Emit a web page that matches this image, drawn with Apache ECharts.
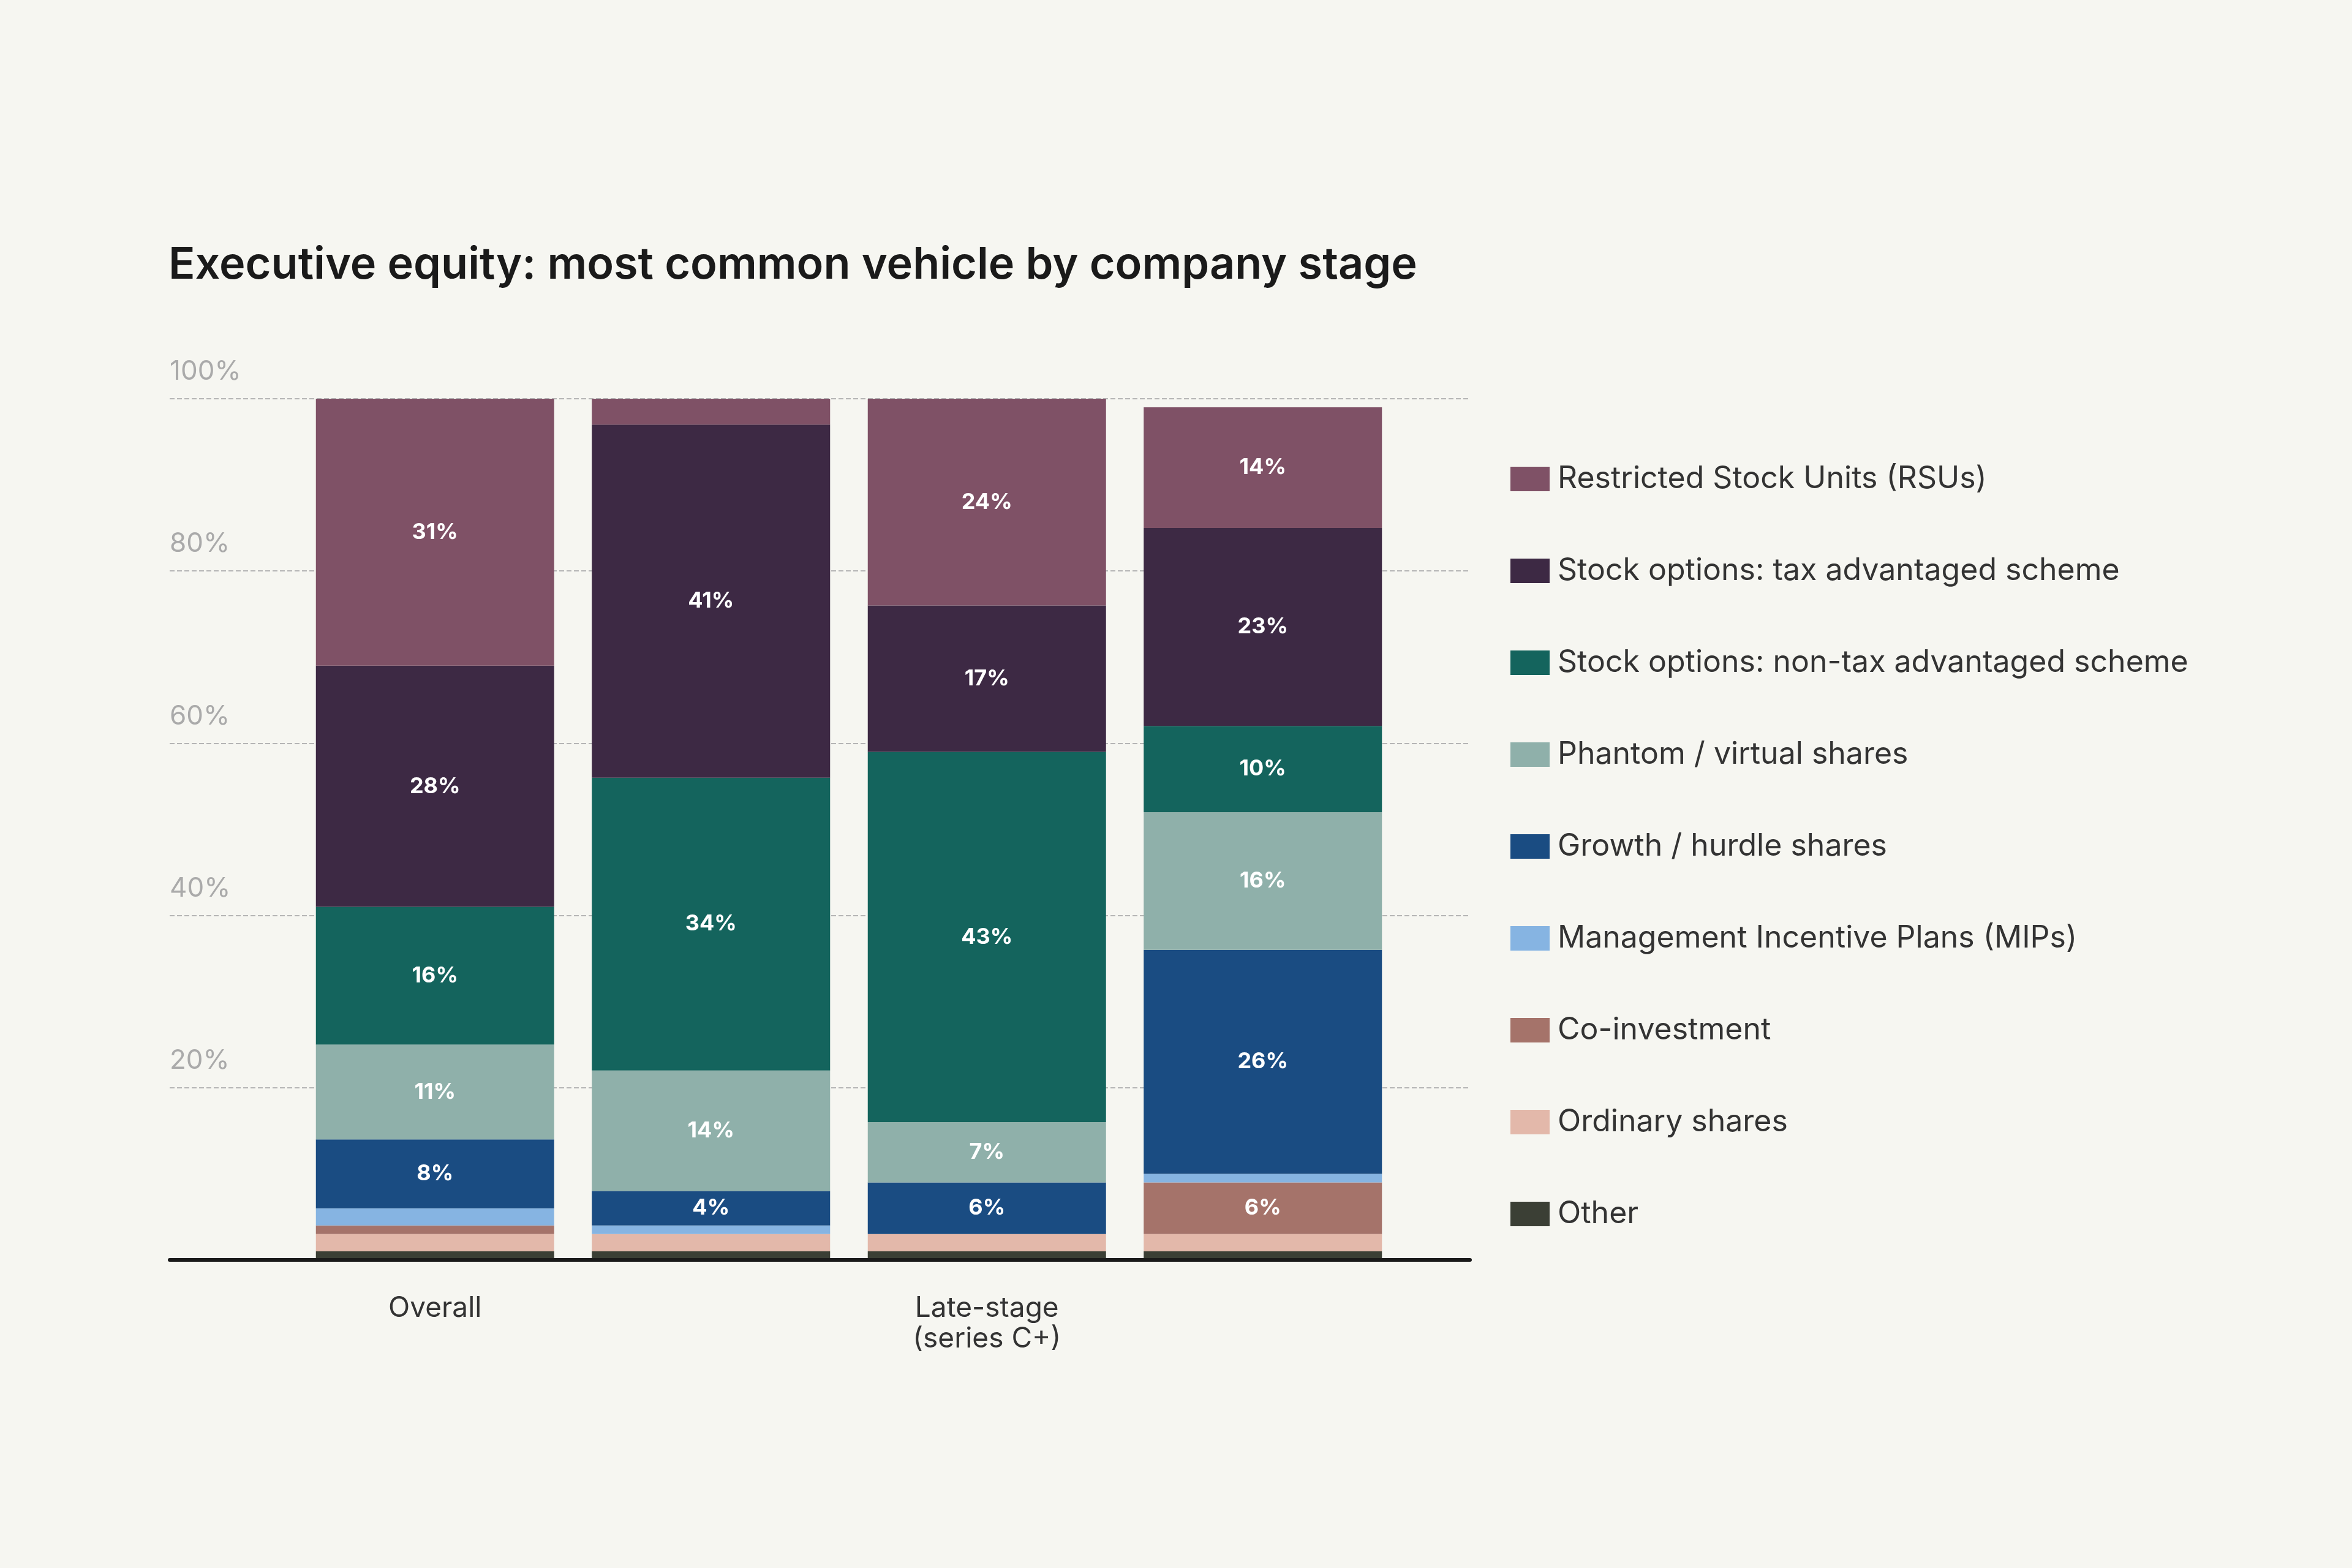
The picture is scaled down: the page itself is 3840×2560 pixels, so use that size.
<!DOCTYPE html>
<html><head><meta charset="utf-8">
<script src="https://cdn.jsdelivr.net/npm/echarts@6/dist/echarts.min.js"></script>
<style>html,body{margin:0;background:#f6f6f1}#chart{width:3840px;height:2560px}</style>
</head><body><div id="chart"></div>
<script>
var categories = ['Overall', 'Early-stage\n(seed to series B)', 'Late-stage\n(series C+)', 'Private equity\nbacked'];
var other = [1, 1, 1, 1];
var ordinary = [2, 2, 2, 2];
var coInvestment = [1, 0, 0, 6];
var mips = [2, 1, 0, 1];
var growth = [8, 4, 6, 26];
var phantom = [11, 14, 7, 16];
var nonTax = [16, 34, 43, 10];
var taxAdv = [28, 41, 17, 23];
var rsu = [31, 3, 24, 14];
var yTicks = [0, 20, 40, 60, 80, 100];

var seriesDefs = [
    ['Other', other, '#3b3f35'],
    ['Ordinary shares', ordinary, '#e3b8aa'],
    ['Co-investment', coInvestment, '#a5736a'],
    ['Management Incentive Plans (MIPs)', mips, '#86b4e2'],
    ['Growth / hurdle shares', growth, '#1a4c82'],
    ['Phantom / virtual shares', phantom, '#8fb0aa'],
    ['Stock options: non-tax advantaged scheme', nonTax, '#14645d'],
    ['Stock options: tax advantaged scheme', taxAdv, '#3d2944'],
    ['Restricted Stock Units (RSUs)', rsu, '#7f5166']
];

var font = 'Inter, "Noto Sans", sans-serif';
var myChart = echarts.init(document.getElementById('chart'));

var series = seriesDefs.map(function (d) {
    return {
        name: d[0], type: 'bar', stack: 'all', xAxisIndex: 1, yAxisIndex: 1,
        barWidth: 389, data: d[1], itemStyle: {color: d[2]},
        label: {
            show: true, color: '#fff', fontSize: 36, fontWeight: 'bold', fontFamily: font,
            formatter: function (p) { return p.value >= 4 ? p.value + '%' : ''; }
        }
    };
});

var option = {
    backgroundColor: '#f6f6f1',
    title: {
        text: 'Executive equity: most common vehicle by company stage',
        left: 270, top: 392,
        textStyle: {fontSize: 72, fontWeight: 600, color: '#1a1a1a', fontFamily: font}
    },
    legend: {
        orient: 'vertical', left: 2461, top: 752, itemGap: 100,
        itemWidth: 64, itemHeight: 40, icon: 'rect',
        textStyle: {fontSize: 50, color: '#333', fontFamily: font, padding: [0, 0, 0, 8]},
        data: seriesDefs.slice().reverse().map(function (d) { return d[0]; })
    },
    grid: [
        {left: 277, right: 1440, top: 651, bottom: 503},
        {left: 485, width: 1802, top: 651, bottom: 503}
    ],
    xAxis: [
        {gridIndex: 0, type: 'category', data: [''], axisLine: {lineStyle: {color: '#1a1a1a', width: 6}},
         axisTick: {show: false}, axisLabel: {show: false}, z: 10},
        {gridIndex: 1, type: 'category', data: categories, axisLine: {show: false}, axisTick: {show: false},
         axisLabel: {fontSize: 46, lineHeight: 50, color: '#333', margin: 54, fontFamily: font}}
    ],
    yAxis: [
        {gridIndex: 0, type: 'value', min: 0, max: 100, interval: 20,
         axisLine: {show: false}, axisTick: {show: false},
         splitLine: {lineStyle: {color: '#b5b5b5', type: 'dashed', width: 2}},
         axisLabel: {inside: true, verticalAlign: 'bottom', margin: 0, padding: [0, 0, 22, 0],
                     fontSize: 44, color: '#aaaaaa', fontFamily: font,
                     formatter: function (v) { return v === 0 ? '' : v + '%'; }}},
        {gridIndex: 1, type: 'value', min: 0, max: 100, show: false}
    ],
    series: series
};
myChart.setOption(option);
</script></body></html>
